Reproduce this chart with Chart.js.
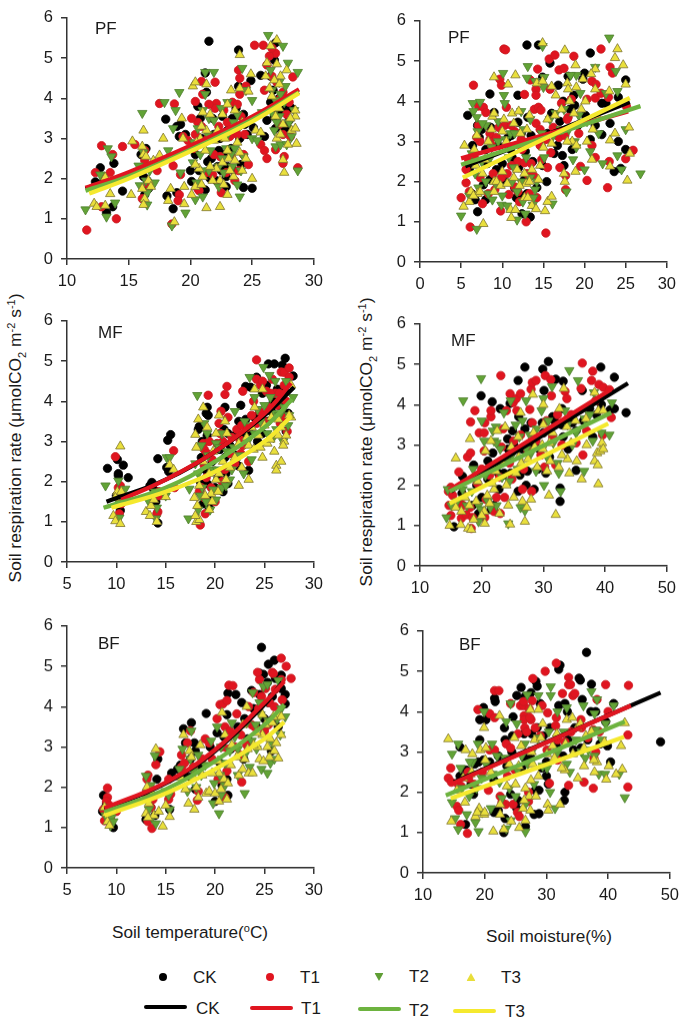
<!DOCTYPE html>
<html>
<head>
<meta charset="utf-8">
<title>Soil respiration</title>
<script src="https://cdn.jsdelivr.net/npm/chart.js@4"></script>
<style>
    html, body { margin: 0; padding: 0; background: #fff; }
    body { position: relative; width: 684px; height: 1020px; overflow: hidden; font-family: "Liberation Sans", Arial, sans-serif; color: #1a1a1a; }
    canvas { position: absolute; }
    .txt { position: absolute; white-space: nowrap; line-height: 1; transform: translateY(-50%); }
    .ytitle { position: absolute; white-space: nowrap; font-size: 17.4px; line-height: 1; transform: translate(-50%, -50%) rotate(-90deg); }
    .xtitle { font-size: 17.2px; }
    .ytitle sub, .ytitle sup, .xtitle sup { font-size: 11px; line-height: 0; }
    .key { font-size: 17px; }
    .mark { position: absolute; transform: translate(-50%, -50%); }
    .dot { width: 8px; height: 8px; border-radius: 50%; }
    .down { width: 9px; height: 8px; clip-path: polygon(0 0, 100% 0, 50% 100%); }
    .up { width: 9px; height: 8px; clip-path: polygon(50% 0, 100% 100%, 0 100%); }
    .bar { position: absolute; height: 4px; border-radius: 2px; transform: translateY(-50%); }
</style>
</head>
<body>
<div class="ytitle" style="left:16px;top:438px">Soil respiration rate (μmolCO<sub>2</sub> m<sup>-2</sup> s<sup>-1</sup>)</div>
<div class="ytitle" style="left:367px;top:442px">Soil respiration rate (μmolCO<sub>2</sub> m<sup>-2</sup> s<sup>-1</sup>)</div>
<div class="txt xtitle" style="left:112px;top:933px">Soil temperature(<sup>o</sup>C)</div>
<div class="txt xtitle" style="left:486px;top:937px">Soil moisture(%)</div>

<div class="mark dot" style="left:163px;top:977px;background:#000"></div>
<div class="txt key" style="left:193px;top:977px">CK</div>
<div class="mark dot" style="left:270px;top:977px;background:#e01520"></div>
<div class="txt key" style="left:300px;top:977px">T1</div>
<div class="mark down" style="left:379px;top:977px;background:#5f9e35"></div>
<div class="txt key" style="left:409px;top:976px">T2</div>
<div class="mark up" style="left:471px;top:977px;background:#e8de3a"></div>
<div class="txt key" style="left:501px;top:977px">T3</div>

<div class="bar" style="left:144px;width:43px;top:1007px;background:#000"></div>
<div class="txt key" style="left:196px;top:1008px">CK</div>
<div class="bar" style="left:250px;width:43px;top:1008px;background:#e01520"></div>
<div class="txt key" style="left:301px;top:1008px">T1</div>
<div class="bar" style="left:358px;width:43px;top:1009px;background:#6db33f"></div>
<div class="txt key" style="left:409px;top:1010px">T2</div>
<div class="bar" style="left:453px;width:43px;top:1011px;background:#f5e92e"></div>
<div class="txt key" style="left:505px;top:1011px">T3</div>

<script>
// tick labels
const respTicks = [0, 1, 2, 3, 4, 5, 6];
const pfTempTicks = [10, 15, 20, 25, 30];
const pfMoistTicks = [0, 5, 10, 15, 20, 25, 30];
const temp5Ticks = [5, 10, 15, 20, 25, 30];
const moistTicks = [10, 20, 30, 40, 50];

// PF, soil temperature
const pfTempCK = [[21.5,5.42],[23.9,5.2],[21.2,4.63],[26.9,5.38],[26.8,4.95],[24.9,4.44],[23.9,4.3],[21.3,4.15],[20.6,3.8],[18,3.48],[18.9,3.3],[19.1,3.05],[19.2,3.35],[12.3,1.92],[12.7,2.27],[13.8,2.38],[13.2,1.15],[13.7,1.3],[14.5,1.69],[16,2.6],[16.4,2.75],[16.3,1.6],[16.5,1.95],[18.1,1.57],[18.6,1.25],[18.9,1.65],[20.1,1.93],[21.2,1.72],[22.1,1.95],[21.4,2.42],[22.9,1.8],[22.3,2.7],[22.6,3.55],[21.9,3.1],[23,3.2],[23.7,3.75],[24.3,3.6],[24.6,3.1],[24.3,1.78],[25,1.76],[23.5,2.2],[22.5,2.2],[25.1,3.27],[25.7,4.57],[26.2,3.45],[26,3.05],[26.9,3.25],[27.2,4],[27.9,3.8],[28,3.45],[27.6,3.2],[26.5,4.55],[20.9,3],[20,2.2],[21.6,2],[23,2.3],[24,3],[20.4,2.6],[21.1,2.9],[21.8,3.5],[22.4,3],[22.8,2.6],[23.4,3.5],[23.9,3.3],[21.7,2.5],[20.7,2.2],[22.9,2.05],[24.1,2.35],[26.7,4.2],[27.1,3.6],[27.5,3.7],[28.2,3.75],[26.5,3.9],[27.8,3.3],[19.6,3.1],[20.8,3.5],[16.2,2.05],[16.6,1.75],[13,1.95],[22.2,2.3],[23.3,2.75],[24.4,3.35],[26.8,3.55]];
const pfTempT1 = [[11.6,0.72],[14,1],[12.8,2.82],[14.5,2.8],[13.7,2.6],[15.5,2.85],[12.3,2.15],[13.5,2.15],[12.8,1.3],[16.3,2.45],[16.6,1.85],[16.1,1.5],[17.5,3.87],[18.7,3.86],[17.3,2.2],[18.6,2.32],[19.2,2.1],[18.5,0.87],[19.1,1.6],[19,1.45],[19.8,2.95],[20.4,3.1],[20.4,3.92],[20.9,4.42],[21,4.1],[22,4.4],[22.1,3.87],[22,3.75],[23.4,3.9],[20.6,3.4],[22.3,3.3],[23,3.4],[23.8,3.85],[23.9,4.7],[24,4.5],[24,4.1],[24.5,4.3],[24.4,3.1],[24.3,2.6],[24.7,2.35],[20.6,1.75],[20.7,1.7],[21.8,2.1],[22.5,1.65],[23.3,2.55],[23.9,2.2],[22.4,2.55],[23.8,3.1],[26.9,5.12],[26.4,5.05],[25.2,5.32],[25.9,5.32],[26.6,5.25],[26.2,4.83],[27.5,4.15],[27.8,3.6],[25.7,2.85],[26,2.7],[26.2,2.5],[26.9,2.72],[27.5,2.38],[27.6,2.55],[28.3,4.53],[28.1,3.05],[28.7,2.27],[26,4.2],[20.9,3.3],[21.4,3],[21.5,3.85],[22.7,3.7],[23.2,3.05],[20.3,2.75],[21.3,2.15],[21.9,2.6],[22.9,2.15],[23.6,1.95],[24.1,3.55],[20.1,3.5],[26.6,4.55],[27,4.4],[27.3,4],[27.5,3.1],[28,3.9],[26.7,3.75],[27.2,3.35],[16.6,2.3],[16.3,2.7],[13,2.05],[19.4,3.05],[22.6,3.05]];
const pfTempT2 = [[11.5,1.23],[13.3,2.75],[13.6,2.55],[12.7,2.1],[13.2,1.05],[13.9,1.4],[16.5,1.35],[16.1,3.63],[16.2,2.65],[15.8,2.32],[15.9,1.83],[16.5,1.65],[17.1,1.9],[18.2,2.7],[18.5,0.83],[17.9,3.9],[18.8,3.7],[19.1,4.15],[18.6,3.25],[19.2,2.15],[19.6,1.15],[20.4,1.48],[21,1.55],[21.2,4.65],[21.9,4.65],[21.2,4.1],[20.6,3.25],[21.5,3.5],[21.9,3.45],[22.6,2.5],[23,3.9],[23.5,3.4],[23.6,2.75],[23.3,2.6],[23.8,1.85],[24,1.55],[24.3,2.55],[24.2,4.75],[24.5,4.2],[25,3],[25.4,2.95],[26.3,5.57],[27.5,5.3],[27.9,4.88],[28.7,4.65],[26.5,4.7],[27.2,4.4],[27.7,4.3],[26.9,3.95],[27.2,3.55],[26.9,2.8],[27.3,2.85],[27.8,2.85],[28.7,2.2],[28.4,3.7],[25,3.95],[25.8,3.65],[26.8,3.2],[20.2,2.4],[22.3,1.8],[21.5,2.2],[20.3,2.9],[20.8,2.6],[21,3.7],[21.4,3.1],[21.6,2.7],[22.1,3.05],[22.3,2.3],[22.7,2.15],[23,3.1],[23.4,2.3],[23.8,3.6],[24.1,2.2],[22.5,3.75],[22.9,2.75],[21,2.2],[20.5,1.9],[26.6,4.2],[27.3,4.1],[27.6,3.9],[28,3.4],[26.7,3.6],[27,3.4],[28.2,3.05],[16.7,2.2],[16.4,1.95]];
const pfTempT3 = [[12.2,1.38],[12.4,1.3],[13.1,1.33],[13.1,2.03],[13.5,1.62],[15.3,2.93],[15.2,1.6],[16.2,3.2],[16.1,2.8],[16.2,2.6],[16.4,2.55],[16.3,1.5],[16.2,1.35],[16.1,1.75],[17,2.45],[17.5,2.58],[17.8,3],[18.4,1.75],[18.2,1.45],[18.7,0.92],[19.4,3],[19.3,3.5],[19.5,1.37],[19.5,1.8],[20.1,1.6],[20.4,1.8],[20.2,4.3],[20.4,4.4],[21.3,4.35],[21,3.65],[21.3,3.2],[20.8,3],[20.7,2.25],[21,2.05],[21.3,1.27],[22.4,1.3],[22.6,2.4],[22.1,2.25],[23,2.7],[23.1,2.5],[23,1.6],[23.3,4.2],[22.6,3.6],[23.6,3.7],[24,5.08],[24,4.25],[24.9,4.6],[24.7,4.17],[24.2,2.2],[24.5,2.5],[25,2],[25.3,3.2],[25.7,3.15],[26.2,4.88],[26.1,4.55],[26.5,5.3],[27,5.45],[27,4.85],[27.3,4.55],[26.8,4.45],[27.2,3.75],[27.5,3.35],[27,3],[27.5,2.47],[27.6,2.15],[28.2,3.2],[28.5,3.25],[28.5,3.55],[28.6,2.87],[27.9,2.85],[28.5,3.7],[22.4,1.95],[23.5,2.05],[21.6,3.6],[23.8,2.9],[20.5,2.9],[20.9,3.3],[21.2,2.7],[21.6,2.3],[21.9,2.95],[22.2,3.2],[22.8,3],[23.2,2.2],[23.6,2.45],[24,2.65],[21.8,1.95],[22.7,1.85],[20.4,2.35],[20.9,1.85],[23,3.85],[24.2,3.4],[26.6,4.05],[27.2,4.35],[27.8,4.7],[27.3,3.1],[26.9,3.55],[28.1,3.5],[26.4,4.25],[16.6,1.95],[16.8,1.8]];
const pfTempLineCK = [[11.5,1.75],[15,2.13],[20,2.78],[25,3.5],[28.7,4.18]];
const pfTempLineT1 = [[11.5,1.77],[15,2.16],[20,2.82],[25,3.54],[28.8,4.22]];
const pfTempLineT2 = [[11.5,1.7],[15,2.06],[20,2.72],[25,3.47],[28.8,4.15]];
const pfTempLineT3 = [[11.8,1.63],[15,2],[20,2.68],[25,3.42],[28.8,4.13]];

// PF, soil moisture
const pfMoistCK = [[13,5.4],[14.4,5.4],[15.8,4.95],[20.7,5.2],[11.9,4.15],[8.5,4.18],[5.8,3.65],[7,3.4],[9,3.72],[8.6,3.35],[11.9,3.48],[7.2,3.1],[8,2.8],[10.7,3.1],[12.3,3.2],[13.5,3.15],[16.8,4.4],[18,4.62],[17.4,4],[18.7,4.15],[18.8,3.9],[20,4.7],[19.8,4.55],[22.6,3.95],[24.1,4.1],[25,4.53],[22.1,3.95],[20.1,3.65],[17,3.5],[16.7,2.9],[17.3,2.65],[17.5,2.4],[14.9,2.4],[15.4,2],[14.7,2.9],[20.7,3.05],[22.1,3.17],[24.1,3],[25,2.8],[24.4,2.33],[23.6,2.25],[23.1,3.45],[7,1.25],[6.7,1.55],[7.7,1.92],[8.5,2.05],[10,2.45],[10.2,2.05],[12,2.35],[12.4,1.2],[13.4,1.12],[13,1.7],[11.5,1.85],[11.1,3.15],[14.9,4.6],[9.5,2.9],[6.4,2.9],[7.5,3.3],[6.3,1.7],[8,1.55],[9.3,2.3],[9.7,3.35],[11.2,2.6],[11.7,1.6],[12.2,1.65],[12.7,2.05],[13.7,2.5],[14.2,1.85],[11,2.8],[13.1,3.6],[15.5,3.2],[16,3.7],[18.2,3.8],[19.2,3.4],[18.5,2.8],[16.3,2.7],[21.3,3.4],[12.8,2.75],[8.2,2.45],[6,2.3]];
const pfMoistT1 = [[10.2,5.3],[10.4,5.28],[6.5,4.4],[9.7,4.55],[9.9,4.4],[7.1,3.88],[7.7,3.85],[8,3.72],[10.5,3.85],[11.5,3.25],[12.7,4.17],[13.4,4.53],[14.1,4.3],[14.1,4.15],[14.3,4.8],[13.9,3.8],[14.4,3.85],[14.7,3.78],[14.1,3.45],[14.6,3.3],[15.8,4.3],[15.7,5.05],[16.4,5.15],[16.9,4.78],[17.5,4.82],[18.7,5.12],[22,5.3],[23.1,4.85],[23.4,4.7],[20.9,4.5],[21.4,4.42],[20.3,4.05],[21.3,4.08],[22,4.2],[22.9,4.1],[17.2,3.95],[18,3.6],[16.9,3.1],[17.6,3.15],[8.5,3.05],[8.5,3.2],[9.3,3.1],[7.3,3],[7.1,3.4],[5,1.6],[5.6,1.97],[5.6,2.3],[6,1.75],[6.1,0.87],[7.6,1.45],[8.3,1.7],[8.9,2.2],[9.8,1.27],[9.9,2.1],[10.8,1.68],[11.5,1.87],[11.9,2.5],[12.7,2.47],[12.9,1],[12.1,1.5],[13,2.2],[13.8,2.15],[14.2,1.6],[15.3,0.72],[14.8,2.55],[15.5,2.35],[15.9,2.72],[17,2.35],[17.7,2.15],[17.7,1.8],[19.5,2.38],[20.3,2.03],[21.3,2.6],[20.9,2.9],[22.8,1.85],[23,2.5],[25,2.57],[25.1,3.87],[25.9,2.78],[6.6,2.6],[7.3,2.1],[8.7,2.9],[6.9,3.1],[9.1,1.8],[10.6,2.2],[11.1,2.4],[12.4,2.8],[13.3,1.7],[11.9,1.75],[12.3,3.05],[14.6,2.9],[16.2,3.35],[17.9,3.55],[18.4,4.05],[19.3,3.2],[15.3,3.05],[10.3,3.4],[11.1,3.4],[9.6,3.35],[5.9,2.55],[13.5,2.45]];
const pfMoistT2 = [[23,5.58],[14.9,5.37],[13.1,4.87],[10.1,4.7],[10.2,4.15],[10.3,3.95],[13,4.58],[14,4.5],[15.1,4.6],[15,4.35],[19,4.65],[21.3,4.85],[23.8,4.75],[24,4.25],[22.6,4.2],[6.4,3.95],[7.3,3.98],[6.5,3.75],[6.9,3.6],[8,3.4],[7,3.25],[9.5,3],[6.7,2.2],[5,1.15],[6.9,0.82],[8.8,1.55],[9.9,1.42],[10,1.65],[11.8,1.05],[12.8,1.2],[13.7,1.42],[14,1.8],[16.1,1.45],[15.1,2.6],[14.2,2],[12.3,2],[11.2,2],[11,3.2],[15.8,3.55],[16.5,3.7],[17.5,3.8],[18.1,3.3],[18.8,3],[19,2.85],[18.6,2.55],[17.8,1.75],[20,2.3],[20.7,2.75],[22.2,2.45],[24,2.65],[24.5,2.3],[25,3.3],[26.8,2.2],[21.7,3.2],[19.5,4.2],[18.3,4.65],[12.3,3.75],[11.5,3.2],[9.5,3.5],[7.5,2.5],[8,2],[6.3,2.7],[7.1,1.85],[7.6,3.45],[8.4,2.55],[8.7,2.85],[9.2,1.95],[10.8,2.6],[11.4,2.35],[11.8,1.75],[12.5,1.5],[12.9,2.6],[13.4,2.1],[13.8,1.6],[10.6,1.4],[10.4,3.05],[12.6,3.3],[13.4,3.55],[16.2,3.15],[14.8,3.2],[17.1,3.3],[19.3,3.65],[20.3,3.5],[8.3,1.7],[6,1.65]];
const pfMoistT3 = [[14.9,5.45],[17.6,5.27],[24,5.3],[23.7,5.08],[24.7,4.9],[18.9,4.9],[21.3,4.8],[20.8,4.68],[9,4.6],[10.7,4.42],[11.6,4.65],[14.2,4.45],[14.9,4.5],[16,4.37],[16.5,4.15],[17.9,4.45],[18,4.3],[19,4.35],[19.8,4.55],[21.3,4.3],[23,4.25],[25,4.42],[5.4,2.9],[6.6,2.8],[6.9,3.15],[8.8,3.62],[9,3.7],[10.2,3.55],[11.2,3.7],[11.4,3.45],[12,3.75],[13,3.3],[13.3,3.65],[12.2,3.2],[10,3.25],[6,1.5],[5.3,1.38],[6.2,1.75],[7,1.7],[7.6,2.2],[7.7,0.95],[9,2],[9,1.75],[10,2.25],[11,1.3],[11.1,1.1],[11.6,1.3],[12.7,1.6],[13.6,1.4],[14.1,1.32],[15.2,1.27],[15.5,1.5],[16,1.63],[12.7,2.2],[12.9,1.95],[14.4,2.05],[15,2.85],[15.5,3.55],[16.4,3.65],[17.6,2],[17.5,2.2],[18.7,3.7],[18.5,3],[18.9,2.25],[19,2.9],[20.3,3],[20.9,2.55],[21,3.3],[23.1,3.03],[23.1,2.38],[23.7,3.2],[25.2,2.03],[25.5,2.7],[25.4,3.35],[18.2,4],[6.5,1.65],[7.3,1.75],[7.9,2.55],[8.3,3],[8.7,3.3],[9.3,2],[9.8,1.9],[10.5,3],[10.6,1.95],[11.4,2.1],[11.8,2.3],[12.1,1.9],[13.3,2],[13.6,2.3],[14.6,2.4],[16,2.95],[16.9,3.25],[17.2,3.8],[17.9,3],[19.6,3.8],[20.1,4],[21.6,3.6],[6.8,2.4],[13.1,1.6]];
const pfMoistLineCK = [[5.5,2.38],[25.5,3.98]];
const pfMoistLineT1 = [[5,2.58],[25.3,3.75]];
const pfMoistLineT2 = [[5,2.42],[26.8,3.88]];
const pfMoistLineT3 = [[5.2,2.1],[25.5,4.08]];

// MF, soil temperature
const mfTempCK = [[9.1,2.33],[10.1,2.55],[10.2,2.2],[10.2,2.15],[10.7,2.41],[11.2,2.1],[10.4,1.28],[13.6,1.98],[13.4,1.9],[14.2,2.57],[14.2,0.97],[15.2,3.03],[15.5,3.17],[15.1,2.35],[15.3,2.25],[18.3,3.3],[18.4,3.37],[19.2,3.85],[19.1,3.7],[19.3,3.65],[19.2,3.15],[18.6,2.6],[18.5,2],[19.2,1.95],[19.4,1.35],[20,1.85],[21,3.85],[20.9,3.3],[21.3,3.2],[21.3,1.95],[21.1,2.2],[22.6,3.9],[22.4,3.5],[23.1,4.37],[23.1,3.55],[23.4,2.28],[23.6,4.35],[24.2,4.6],[24.5,3.7],[25.4,4.93],[26,4.93],[26.8,4.9],[27.1,5.07],[27.9,4.63],[27,4.3],[26.7,3.45],[27.2,3.25],[25.3,3.5],[25.9,4],[24.8,3.2],[22.3,2.4],[21.8,2.7],[18.7,3],[19,2.3],[19.7,2.5],[20.3,2.1],[20.5,2.8],[21,2.6],[21.5,2.9],[22,3.15],[22.9,3.1],[23.4,3.25],[24,3.6],[24.3,3],[24.8,4.2],[25.2,4.4],[25.7,3.75],[26.3,4.3],[26.5,3.9],[27.4,3.7],[19.5,1.55],[18.8,1.45],[10,1.65],[14,1.5],[13.8,1.8],[20.8,1.75]];
const mfTempT1 = [[9.9,2.62],[10.2,1.85],[10.4,1.9],[10.3,1.2],[14.2,1.25],[14.1,1.2],[14.3,1.65],[15.8,2.77],[15.9,1.85],[18.5,0.92],[18.6,1.85],[18.9,1.6],[19,1.2],[18.8,2.95],[18.9,2.8],[19.2,2.7],[19.3,4.15],[20.6,3.75],[20.4,3.45],[20.5,3.2],[20.3,2.25],[19.6,1.85],[20,1.5],[21,4.17],[21.2,4.37],[21.3,3.6],[21.5,2.7],[22.2,3.3],[22.8,4.25],[22.7,3.4],[22.8,2.9],[23.4,2.5],[23.7,3.65],[24.2,5.03],[24.2,4.55],[24.6,4.4],[24.8,4.5],[25,3.5],[25.4,3.85],[25.8,4.55],[26.1,4.2],[26.7,4.73],[27,4.72],[27.5,4.83],[27.5,4.6],[27,4.4],[26.9,3.6],[27.3,3.25],[26.5,4.2],[22,2.45],[22.6,2.7],[18.9,2.4],[19.4,3],[19.7,2.55],[20.2,2.95],[20.8,3],[21,2.3],[21.7,3.1],[22.5,3.05],[23.3,3.35],[23.9,4],[24.2,3.45],[24.5,3.75],[25.2,4.25],[25.6,4.2],[26.3,3.9],[26.6,3.45],[27.2,4],[19.1,2.1],[18.4,1.75],[20.7,2],[14.3,1.75],[10.5,1.45]];
const mfTempT2 = [[8.9,1.9],[10.2,2.02],[10.9,1.82],[10.3,1.1],[13.3,1.5],[14,1.08],[14.1,1.35],[15.1,2.6],[15.4,2.6],[15,1.65],[17.4,1.82],[17.3,1.08],[18.2,4.15],[18.6,2.9],[18.3,2.2],[18.7,1.85],[19.2,3.2],[19.1,1.5],[19.5,1.3],[20.1,1.55],[20.1,2.95],[20.4,2.85],[20.7,1.85],[21.1,1.9],[21.5,2.05],[22,3.75],[23.5,4.6],[23.7,2.55],[23.3,3],[24,4.1],[24.9,4.85],[25.5,4.65],[26.1,4.5],[24.6,3.5],[25.3,3.2],[26.1,3.7],[26.5,3.65],[27.2,4.5],[27.9,4.1],[27.4,3.4],[26.9,3],[25.9,3.1],[24,3.2],[22.9,2.2],[21.7,2.3],[19.6,2.3],[18,2.45],[18.5,1.65],[18.9,3.45],[19.3,2.65],[19.8,1.8],[20.2,2.3],[20.7,3.2],[21.2,2.75],[21.9,2.85],[22.5,2.65],[23,3.5],[24.3,3.8],[25,3.9],[25.6,4.1],[26.2,3.3],[26.6,4.05],[27,3.85],[27.5,3.65],[23.7,3.4],[13.9,1.75],[10.1,1.55],[18.3,1.3]];
const mfTempT3 = [[10.4,2.88],[10.1,1.75],[10.5,1.75],[9.9,1.6],[9.7,1.15],[9.9,1.02],[10.4,0.95],[13,1.25],[13.5,1.4],[13.8,1.55],[14.1,1],[15,1.62],[15.4,2.42],[15.8,2.3],[17.9,1.6],[18.1,1],[18.2,1.4],[18.4,1.05],[18.8,3.85],[18.3,3.55],[18,3.17],[18.1,2.85],[19.2,3.35],[19.6,1.7],[19.7,1.5],[19.4,1.3],[20.1,2.05],[20.4,2.2],[20.1,3.2],[20.4,3.65],[21,3.5],[21.1,2.05],[22.4,1.9],[22.7,2.35],[23.4,2.05],[23.4,2.9],[23.9,2.8],[24,4.3],[24.8,4.3],[24.6,2.85],[24.8,2.6],[25.3,2.95],[26,2.75],[26.2,2.4],[26.2,2.28],[26.7,2.5],[27,3],[26.4,3.15],[27.7,3.6],[27.5,3.65],[27.7,4.4],[26.7,3.35],[18.4,1.9],[18.8,2.5],[19,1.65],[19.4,2.2],[19.8,2.75],[20.3,1.75],[20.8,2.5],[21.2,3.2],[21.5,2.35],[22,2.6],[22.4,2.95],[23.2,3.1],[23.7,3.35],[24.4,3.15],[25,3.4],[25.6,3.05],[26.4,3.55],[27.2,3.15],[26.9,2.9],[24,3.85],[25.7,3.6],[13.4,1.15],[18,1.15]];
const mfTempLineCK = [[9,1.5],[15,2.05],[20,2.75],[25,3.65],[28,4.35]];
const mfTempLineT1 = [[10.5,1.55],[15,2.05],[20,2.75],[25,3.7],[27.7,4.45]];
const mfTempLineT2 = [[8.7,1.35],[15,1.85],[20,2.5],[25,3.35],[27.8,4.05]];
const mfTempLineT3 = [[9.5,1.35],[15,1.75],[20,2.25],[25,3],[27.7,3.62]];

// MF, soil moisture
const mfMoistCK = [[15.5,0.97],[16.9,2.22],[19.9,4.22],[21.7,4.07],[24.6,4.03],[25.9,4.6],[27,4.93],[29.9,4.88],[30.8,5.07],[32,4.63],[33.2,4.58],[39.3,4.93],[41.5,4.68],[40.8,3.87],[41.5,3.9],[43.4,3.8],[39.4,4],[38.6,3.75],[34.7,3.55],[33,3.9],[31.5,3.7],[29.8,3.55],[28,3.55],[25,3.35],[24.2,3.15],[21.8,2.8],[18.7,2.5],[19.5,1.3],[21,2.15],[21.5,1.4],[22.8,1.9],[23.5,2.25],[26.2,2.25],[25.9,1.85],[27.2,2],[28.5,1.9],[29.1,2.4],[30.4,2.3],[32.7,1.93],[32.7,1.6],[35.3,2.37],[33.2,3.2],[30.1,4.35],[26,3.7],[23.6,2.3],[36.3,4.35],[38,3.2],[16.8,1.8],[18.5,1.5],[19.2,2],[20,1.7],[21,2.6],[22,1.5],[22.7,2.3],[24.3,2.9],[24.7,2.3],[25.2,3],[26.6,2.9],[27,3.4],[27.4,2.35],[28.4,3],[29.3,2.9],[30,3.3],[31,2.7],[31.8,3.6],[33,3.5],[34,2.9],[35.3,3.35],[36.5,3.6],[37.5,3.9],[23,3.9]];
const mfMoistT1 = [[14.6,1.85],[15,1.95],[16.3,2.33],[15,1.25],[14.7,1.5],[16.7,1.18],[17.5,1.27],[18.5,1.2],[17.7,2.7],[18.2,2.8],[18.9,3.85],[18.2,3.57],[19.6,3.3],[20.4,3.3],[20.5,3.55],[20.4,2.85],[21.5,3.7],[21.5,3.85],[23.1,4.72],[23.2,2.95],[24,3.85],[24.6,4.27],[25.1,4.05],[25.6,4.15],[26.3,4.27],[25.7,3.85],[27.8,3.88],[28,4.38],[28.2,4.55],[28.8,4.6],[30.3,4.72],[31.2,4.62],[31.3,4.22],[33.5,4.33],[33.8,4.15],[36.1,4.4],[36.3,5.03],[37.8,4.6],[38,4.83],[39,4.5],[39.7,4.43],[40.7,4.37],[41,3.68],[39.6,3.25],[36.4,2.75],[31.5,3.2],[28.2,3.55],[22,1.35],[23,1.3],[22.4,1.7],[23.7,1.7],[24.9,2.15],[26.6,1.9],[28.1,1.85],[20.5,1.2],[18.3,0.93],[30.2,2.45],[32,2.5],[15.3,1.75],[16.5,1.55],[17,1.5],[18.1,1.45],[19.3,2.05],[20,2.4],[20.7,1.65],[21.3,2.25],[22.9,2.2],[23.5,3.4],[24.5,2.55],[25.2,3.1],[26.3,3.25],[26.8,2.4],[27.5,2.85],[28.8,3.1],[29.6,2.75],[30.5,3.6],[32.3,3.75],[33,3],[34.5,3.75],[35.3,3.05],[37,3.35],[38.5,4.1]];
const mfMoistT2 = [[14.3,1.2],[15.1,1.5],[14.5,1.9],[17,4.1],[18.6,2.4],[19.5,1.5],[19.9,4.65],[20,3.6],[20.4,3.1],[21,1.6],[22.3,3.45],[22,3.1],[22.4,1.5],[23.6,3.8],[24.3,1.05],[24.5,2.1],[24.7,4.1],[25.5,3.5],[26.1,3.2],[26.3,1.45],[27,1.37],[27.2,4.1],[28.9,3.4],[30,4.15],[30.1,2],[31.4,4.45],[32.5,2.3],[32.8,1.85],[33.9,3.5],[34.2,4.85],[35.6,4.6],[34.7,3],[36.7,3.65],[36.6,2.35],[38,3.1],[38.2,4.3],[39.4,3.3],[40.7,3.25],[41.1,4.05],[30.8,3.6],[28,2.8],[22.5,2.5],[19.5,1.1],[23,2.9],[16,1.6],[16.9,1.9],[17.6,1.5],[18.4,1.85],[19.9,1.4],[20.6,2.25],[21.4,1.45],[21.8,3.35],[22.4,3.05],[23.3,2.2],[24,2.6],[24.9,2.75],[25.8,2.4],[26.6,3.6],[27.2,2.9],[27.8,3.25],[28.8,2.35],[29.7,3.85],[30.6,2.7],[31.6,3.05],[32.3,2.55],[33.5,3.85],[35.3,3.3],[37.5,3.75]];
const mfMoistT3 = [[14.8,1],[15.8,2.67],[16.6,1.02],[17.8,0.93],[18.3,0.9],[18.1,3.15],[19.4,2.1],[20.4,1.35],[20.5,1.05],[20.6,2.85],[21.3,1.55],[21.5,3.1],[22,1.9],[22.5,3.35],[22.9,1.3],[23.8,3.45],[24.6,1.03],[24.3,1.5],[25.2,1.7],[25.9,3.2],[26.3,3.8],[26,2.7],[26.6,1.6],[27,1.1],[27.3,1.45],[28.3,4.25],[28.6,2.95],[28,1.65],[29.8,3],[30,4],[30,3.5],[31.1,2.6],[30.9,1.75],[32,1.27],[32.5,2.45],[32.6,3.9],[33.3,4.4],[33.8,3.45],[33.9,2.65],[34.2,2.3],[35.2,3.6],[35.4,2.6],[36.2,2.15],[37,3],[38.3,2.6],[38.8,2.5],[38.9,2.03],[38.7,2.8],[39.2,2.85],[39.5,3.05],[39.7,2.9],[38.9,3.85],[39.7,3.85],[38.3,4.3],[31,3.05],[15.8,1.45],[16.7,1.35],[17.3,1.7],[18,1.5],[18.7,1.15],[19.1,1.6],[20,1.25],[20.9,1.75],[21.7,2.05],[22.3,2.35],[23.2,2.6],[24,2],[24.8,2.95],[25.6,2.3],[26.4,2.55],[27.5,2.65],[28.4,3.3],[29,2.45],[29.9,2.9],[30.6,2.35],[31.5,3.3],[33,2.75],[34.5,3.05],[36.9,3.65]];
const mfMoistLineCK = [[15,1.85],[43.7,4.53]];
const mfMoistLineT1 = [[14.7,1.88],[41,4.38]];
const mfMoistLineT2 = [[14.8,1.85],[41,3.8]];
const mfMoistLineT3 = [[14.8,1.55],[40.5,3.53]];

// BF, soil temperature
const bfTempCK = [[24.7,5.47],[25.4,5.05],[26,5.15],[24.5,4.83],[24.9,4.8],[25.3,4.6],[26.7,4.78],[27.1,4.3],[27.1,4.07],[26.7,4.45],[21.3,4.33],[22.1,4.3],[22.7,4.1],[19.1,3.83],[21.2,3.8],[23.7,4.4],[17.6,3.6],[16.8,3.45],[20.2,3.35],[17,3.1],[17.9,3.1],[18,2.9],[17.5,2.7],[14.2,2.7],[14.1,2.2],[15.6,2.35],[16.2,2.45],[25.7,2.9],[21.3,1.8],[20,1.65],[20.7,2.05],[21.2,2.2],[22.9,2.7],[23.3,3.2],[13,1.2],[13.5,1.5],[13.1,1.9],[15.4,1.45],[8.7,1.8],[8.6,1.4],[9.7,1],[18,1.95],[24.2,3.5],[25.8,4.25],[9,1.6],[25,3.7],[9.2,1.2],[8.9,1.5],[13.4,1.7],[13.9,1.3],[16.5,2.55],[16.9,2.3],[17.5,2.25],[18.5,2.55],[19.5,3],[20.5,2.6],[20.9,3.25],[21.6,2.95],[22.3,3.5],[23,3.7],[23.9,3.95],[24.5,4.3],[25.4,4.1],[26.1,4.7],[25.9,3.7],[26.4,3.5]];
const bfTempT1 = [[9.1,1.98],[9.1,1.75],[9,1.65],[9.3,1.55],[9.1,1.35],[8.8,1.17],[10,1.4],[13.2,2.3],[13.1,2.2],[13.5,1.5],[13.2,1.15],[13.6,0.98],[14.4,2.88],[14,2.56],[15.3,1.7],[15.5,1.83],[15.3,2.2],[16.6,2.8],[17.2,3.1],[17.5,3.4],[16.6,2.5],[18.2,1.68],[18.3,1.9],[19,3.2],[19.4,3.1],[20.2,3.7],[20.5,4.05],[20.8,4.07],[21.2,4.15],[21.4,4.53],[21.8,4.52],[21,3.5],[21.2,2.4],[21,1.75],[21.5,3.4],[22.2,3.82],[22.7,2.13],[23.2,3.05],[23.4,4],[23.9,4.35],[24.5,4.67],[24.7,4.25],[25,3.4],[25.8,4.85],[25.9,4.82],[26.7,5.2],[27.2,5],[26.7,4.67],[27.7,4.7],[26.8,4.17],[26.1,4.43],[25.4,3.55],[23.7,3.55],[22.5,2.8],[9.4,1.25],[8.7,1.45],[13,1.85],[13.7,1.7],[16.9,2.6],[17.8,2.5],[18.7,2.7],[19.7,2.7],[20.3,2.2],[20.7,3],[21.3,2.95],[22,3],[22.6,3.3],[24,3.5],[24.4,3.95],[25.1,4.45],[25.5,4.1],[26,4],[26.3,3.75],[24.3,4.85]];
const bfTempT2 = [[9.4,1.05],[9.5,1.25],[9.7,1.15],[13,2.28],[13.3,1.45],[13.6,1.25],[14,1.1],[13.9,2.78],[15.4,1.45],[15.3,1.8],[16.7,2.95],[17.2,1.9],[17.8,2.4],[17.6,3.4],[18.3,2.8],[19.6,3.15],[19.8,1.6],[20.4,1.35],[20.2,3.5],[21,2.6],[21.7,3.6],[22.3,2.3],[23,1.85],[23,2.8],[23.2,3.6],[23.8,4.35],[24.2,2.95],[24.7,2.45],[24.9,4.5],[25.3,4.55],[25.3,2.35],[25.6,2.6],[26,2.7],[26.4,4.65],[25.4,3.65],[26.6,3.3],[27.1,3.75],[26.3,3.7],[24.5,4.1],[22,3.25],[20.5,2.3],[18.6,2.3],[8.9,1.3],[9.2,1.5],[13.2,1.7],[13.5,2.05],[15,1.9],[16.4,2.45],[17.5,2.7],[18.1,2],[19,2.55],[19.9,2.1],[20.6,3],[21,2.05],[21.5,2.9],[22.3,2.95],[23.7,3.15],[24.1,3.55],[24.6,3.8],[25.8,3.1],[26.7,3.95],[23.5,2.5],[20.6,1.8]];
const bfTempT3 = [[8.8,1.5],[9.1,1.15],[9.3,1.05],[13,1.35],[13.1,2],[13.3,1.6],[13.8,1.3],[14,2.95],[14.3,1.4],[14.7,1.03],[15,1.55],[15.4,1.27],[16.8,3.3],[17,1.95],[17.3,1.6],[17.4,2.9],[17.6,2.75],[17.9,1.45],[18.1,2],[18.3,1.75],[18.5,3.05],[19.1,1.85],[19.4,1.9],[20,1.85],[20.4,1.65],[20.4,2.35],[20.7,3.85],[20.9,2.2],[21,3.3],[21.2,1.7],[21.6,2.55],[22.4,2.3],[22.8,2.45],[23,2.7],[23.4,2.35],[23.8,2.35],[24.3,3],[24.5,2.7],[24.8,3.8],[24.8,3.3],[25.3,3],[25.6,3.2],[25.8,3.6],[26.2,3.1],[26.4,2.72],[26.4,3.8],[26.7,3.3],[26.7,3.75],[22.8,3.55],[23.2,4],[9,1.35],[9.4,1.4],[13.5,1.9],[13.2,1.25],[16.5,2.25],[17.8,2.25],[18.7,2.3],[19.7,2.35],[20.3,2.65],[20.6,1.95],[21.3,2.1],[21.7,3.05],[22.2,2.75],[23.3,2.95],[23.9,3.05],[24.2,3.35],[24.9,2.65],[25.1,3.55],[25.5,2.75],[26,2.9],[25.9,3.75]];
const bfTempLineCK = [[8.8,1.45],[15,2.1],[20,2.9],[25,4.05],[26.8,4.6]];
const bfTempLineT1 = [[8.8,1.48],[15,2.12],[20,2.93],[25,4.1],[27,4.62]];
const bfTempLineT2 = [[8.8,1.38],[15,1.95],[20,2.65],[25,3.55],[27,4.05]];
const bfTempLineT3 = [[8.8,1.3],[15,1.85],[20,2.45],[25,3.2],[27,3.62]];

// BF, soil moisture
const bfMoistCK = [[36.5,5.47],[32.2,5.15],[32,5.05],[35.3,4.83],[35.5,4.78],[37.3,4.68],[28.3,4.75],[28.5,4.63],[25.9,4.6],[25.2,4.4],[26.5,4.37],[27.5,4.47],[35.8,4.3],[21.6,4.33],[21.7,4.25],[19.8,4.1],[19.2,3.8],[20.2,3.8],[23.2,3.6],[24.6,3.87],[29,4.2],[32,4.15],[33,4.2],[33.4,4],[40.9,4.2],[37.2,4],[38,4],[39.6,3.75],[39.9,3.15],[40.4,2.75],[48.5,3.25],[36.7,3.3],[19.2,3.3],[23.3,3.3],[27.5,2.85],[29.5,3.4],[32.7,2.9],[16,3.12],[19,2.75],[18.4,2.7],[16,2.4],[21.5,2.3],[26,2.6],[30,2.4],[30.3,2.2],[28.8,2.05],[28.2,2.05],[33,2],[32.9,1.8],[18.2,1.95],[24.2,1.95],[25.4,1.8],[28,1.45],[28.8,1.47],[26.6,1.15],[23.1,1],[23.3,1.35],[16.9,1.2],[21.5,1.5],[22.2,1.55],[17,2.55],[17.8,2.2],[19.8,2.8],[20.8,2.75],[22.2,2.9],[23.6,2.65],[24.4,3],[26.4,3.45],[27.6,3.45],[28.5,3.6],[30.6,3.6],[31.6,3.15],[33.5,3.3],[34.4,3.05],[35.6,3.1],[38.7,3.2],[29.3,2.6],[30,2.75],[25.2,1.6],[26.5,2.85],[34.6,3.6],[24.5,3.4]];
const bfMoistT1 = [[31.6,5.2],[29.8,5],[27.8,4.82],[33.6,4.85],[33.6,4.67],[33.9,4.67],[39.6,4.67],[43.3,4.65],[21.6,4.52],[22.3,4.52],[32.6,4.45],[34.3,4.4],[34.6,4.45],[24.2,4.2],[25.8,4.15],[26.3,4.15],[26.4,3.9],[27.2,4.07],[27.7,4.27],[29.3,4.15],[30.2,3.97],[31.6,3.85],[31.5,3.65],[18.9,4.05],[20.8,3.95],[21.6,3.85],[26.4,3.8],[27.5,3.8],[35.6,3.8],[37.6,3.55],[40,4],[38.2,4.3],[43.2,3.42],[43.2,2.13],[36.1,2.25],[37.6,2.1],[33.6,2.17],[30.5,2.22],[27.1,2],[27.1,1.77],[25.3,1.5],[25.6,1.4],[23.4,1.7],[24.6,1.7],[22.5,1.9],[20.6,2.05],[17.2,0.98],[16.1,1.2],[15.5,1.65],[15.8,1.55],[14.5,2.6],[14.1,2.35],[14.6,2.25],[15.7,2.2],[17.3,2.5],[20.8,3.05],[21.6,3.05],[23.5,3.2],[24.2,3.1],[38,3],[37.7,2.85],[16.2,2.15],[17.4,2.35],[18.3,2.2],[19.6,2.5],[22.8,1.75],[23.7,2.4],[24.9,2.55],[25.4,3.45],[26.5,3.6],[28.2,3.6],[29,3.4],[30.1,3.05],[31.8,3.3],[33,3.25],[34,3.5],[35.7,3.6],[36.7,3.35],[38.6,3.5],[26.8,3.5],[26.3,4.25],[27.3,3.85],[31.8,2.8]];
const bfMoistT2 = [[42.7,1.87],[40.9,4.15],[37.3,4.5],[38.2,4.3],[37.8,3.95],[36,4.15],[30.7,4.62],[30.7,4.4],[26.9,4.42],[28.7,4.4],[24.2,4.2],[23.5,3.75],[25.2,3.7],[19.9,4],[21.2,3.2],[18.9,3.2],[15.7,3.2],[14.7,2.95],[16.1,2.6],[18,2.75],[14.7,1.75],[15.2,1.35],[15.7,1.08],[17.1,1.45],[19,1.03],[18.5,1.25],[22.8,1.85],[23.5,1.1],[26.6,1.02],[25,1.9],[30.6,2],[31.4,1.6],[33.8,2.5],[35.7,3],[33.3,4.1],[31.8,4],[36.3,2.85],[38.5,2.45],[39.5,2.45],[39,3.3],[41.8,2.45],[30.4,3.5],[26.5,3.2],[22,2.9],[19.5,2.35],[28,2.2],[38,3.55],[27,2.7],[17.5,1.9],[21,1.6],[24.2,1.3],[16.3,2.1],[17.6,2.75],[18.7,2.1],[19.6,1.5],[20.2,2.7],[21.3,2.45],[22.4,2.25],[23.3,2.85],[24,2.1],[26,2.9],[26.6,1.7],[27.8,3.05],[28.6,3.35],[29.4,2.65],[30.1,2.6],[31.8,3],[32.8,3.5],[33.3,2.7],[34.8,3.3],[36.8,3.05],[37.8,2.9],[39.6,3.7],[25.3,2.55]];
const bfMoistT3 = [[14.1,3.32],[16.9,3.05],[18,2.95],[19.3,3.05],[19.9,3.6],[20.2,3.1],[22.4,3.9],[24.8,3.35],[28.1,3.3],[28.7,4.05],[27.4,4.05],[31.7,3.45],[33.3,3.8],[34.2,3.85],[35,3.6],[37.3,3.5],[37.8,2.5],[38.2,2.75],[39.7,2.32],[40.1,2.65],[41.3,2.45],[42.1,3.15],[42.3,2.57],[42.7,3.72],[36.1,2.65],[35.1,2.35],[33,2.55],[31.3,2.85],[32.2,1.7],[30.2,1.7],[30.3,1.55],[27.5,2.3],[26.6,2.1],[27.2,1.9],[28.3,1.9],[25,2.2],[26.2,1.6],[26.6,1.3],[25.6,1.12],[24.3,1.28],[22.5,1.45],[21.4,1.03],[23.1,1.08],[19.9,1.45],[19.1,1.6],[18.5,1.4],[14.6,1.28],[16.8,1.75],[17.7,2.45],[20.1,2.8],[29.1,3.35],[30.1,2.95],[36.1,3.1],[27.6,3],[15.5,2.05],[16.5,2.35],[17.9,2.5],[18.8,1.5],[20,1.5],[21,2.5],[22.5,1.7],[23.6,2.15],[24,2.7],[25.5,2.65],[25.9,3.15],[26.4,1.8],[27.4,1.55],[27.8,2.7],[28.7,2.4],[29.4,3.7],[31,3.15],[32.5,2.6],[33.1,3.2],[34.3,2.95],[35.5,3.7],[36.4,3.4],[37.7,2.8],[39.4,3.25]];
const bfMoistLineCK = [[15,2.25],[48.5,4.47]];
const bfMoistLineT1 = [[14.5,2.2],[43.7,4.15]];
const bfMoistLineT2 = [[13.7,1.92],[42.7,3.75]];
const bfMoistLineT3 = [[14.5,1.85],[42.6,3.37]];

const panels = [
    { name: 'PF', x0: 67, y6: 9.5, w: 249, h: 249.5, lx: 95, ly: 28, ticks: pfTempTicks, pts: [pfTempCK, pfTempT1, pfTempT2, pfTempT3], lines: [pfTempLineCK, pfTempLineT1, pfTempLineT2, pfTempLineT3] },
    { name: 'PF', x0: 419.7, y6: 12.7, w: 249.3, h: 249.6, lx: 448, ly: 37, ticks: pfMoistTicks, pts: [pfMoistCK, pfMoistT1, pfMoistT2, pfMoistT3], lines: [pfMoistLineCK, pfMoistLineT1, pfMoistLineT2, pfMoistLineT3] },
    { name: 'MF', x0: 67, y6: 312.7, w: 249, h: 249.6, lx: 98, ly: 332, ticks: temp5Ticks, pts: [mfTempCK, mfTempT1, mfTempT2, mfTempT3], lines: [mfTempLineCK, mfTempLineT1, mfTempLineT2, mfTempLineT3] },
    { name: 'MF', x0: 419.7, y6: 316, w: 249.3, h: 249.7, lx: 451, ly: 340, ticks: moistTicks, pts: [mfMoistCK, mfMoistT1, mfMoistT2, mfMoistT3], lines: [mfMoistLineCK, mfMoistLineT1, mfMoistLineT2, mfMoistLineT3] },
    { name: 'BF', x0: 67, y6: 618.3, w: 249, h: 249.4, lx: 98, ly: 643, ticks: temp5Ticks, pts: [bfTempCK, bfTempT1, bfTempT2, bfTempT3], lines: [bfTempLineCK, bfTempLineT1, bfTempLineT2, bfTempLineT3] },
    { name: 'BF', x0: 423, y6: 623, w: 249.3, h: 249.7, lx: 459, ly: 644, ticks: moistTicks, pts: [bfMoistCK, bfMoistT1, bfMoistT2, bfMoistT3], lines: [bfMoistLineCK, bfMoistLineT1, bfMoistLineT2, bfMoistLineT3] }
];

const seriesNames = ['CK', 'T1', 'T2', 'T3'];
const lineColors = ['#000000', '#e01520', '#6db33f', '#f5e92e'];
const fillColors = ['#000000', '#e01520', '#62a336', '#e9df3c'];
const edgeColors = ['#000000', '#c81a20', '#4f7f2e', '#7d7530'];
const markStyles = ['circle', 'circle', 'triangle', 'triangle'];
const markSizes = [4.2, 4.2, 5.4, 5.4];
const markTurns = [0, 0, 180, 0];

const axisColor = '#333';
const PAD_LEFT = 50;
const PAD_TOP = 10;
const PAD_RIGHT = 14;
const PAD_BOTTOM = 36;

Chart.defaults.font.family = '"Liberation Sans", Arial, sans-serif';
Chart.defaults.font.size = 16.5;
Chart.defaults.color = '#1a1a1a';

function toXY(pairs) {
    return pairs.map(p => ({ x: p[0], y: p[1] }));
}

panels.forEach(function (p) {
    const label = document.createElement('div');
    label.className = 'txt';
    label.textContent = p.name;
    label.style.cssText = 'left:' + p.lx + 'px;top:' + p.ly + 'px;font-size:17px;z-index:2';
    document.body.appendChild(label);

    const canvas = document.createElement('canvas');
    const cw = p.w + PAD_LEFT + PAD_RIGHT;
    const ch = p.h + PAD_TOP + PAD_BOTTOM;
    canvas.width = cw;
    canvas.height = ch;
    canvas.style.cssText = 'left:' + (p.x0 - PAD_LEFT) + 'px;top:' + (p.y6 - PAD_TOP) + 'px;width:' + cw + 'px;height:' + ch + 'px';
    document.body.appendChild(canvas);

    // first in order is drawn last: lines over points, T3 over CK
    const datasets = [];
    seriesNames.forEach(function (name, i) {
        datasets.push({
            label: name + ' fit',
            data: toXY(p.lines[i]),
            showLine: true,
            tension: 0.4,
            borderColor: lineColors[i],
            borderWidth: 4.3,
            pointRadius: 0,
            order: 3 - i
        });
        datasets.push({
            label: name,
            data: toXY(p.pts[i]),
            pointStyle: markStyles[i],
            pointRadius: markSizes[i],
            pointRotation: markTurns[i],
            pointBackgroundColor: fillColors[i],
            pointBorderColor: edgeColors[i],
            pointBorderWidth: 0.8,
            order: 7 - i
        });
    });

    const xTicks = p.ticks;
    new Chart(canvas, {
        type: 'scatter',
        data: { datasets: datasets },
        options: {
            responsive: false,
            animation: false,
            layout: { autoPadding: false, padding: { left: 0, top: PAD_TOP, right: PAD_RIGHT, bottom: 0 } },
            plugins: { legend: { display: false }, tooltip: { enabled: false } },
            scales: {
                x: {
                    type: 'linear',
                    min: xTicks[0],
                    max: xTicks[xTicks.length - 1],
                    afterFit: function (scale) { scale.height = PAD_BOTTOM; },
                    ticks: { stepSize: xTicks[1] - xTicks[0], padding: 7, maxRotation: 0, autoSkip: false },
                    grid: { drawOnChartArea: false, tickLength: 6, color: axisColor, lineWidth: 1.5 },
                    border: { color: axisColor, width: 1.5 }
                },
                y: {
                    type: 'linear',
                    min: respTicks[0],
                    max: respTicks[respTicks.length - 1],
                    afterFit: function (scale) { scale.width = PAD_LEFT; },
                    ticks: { stepSize: 1, padding: 8, autoSkip: false },
                    grid: { drawOnChartArea: false, tickLength: 6, color: axisColor, lineWidth: 1.5 },
                    border: { color: axisColor, width: 1.5 }
                }
            }
        }
    });
});
</script>
</body>
</html>
